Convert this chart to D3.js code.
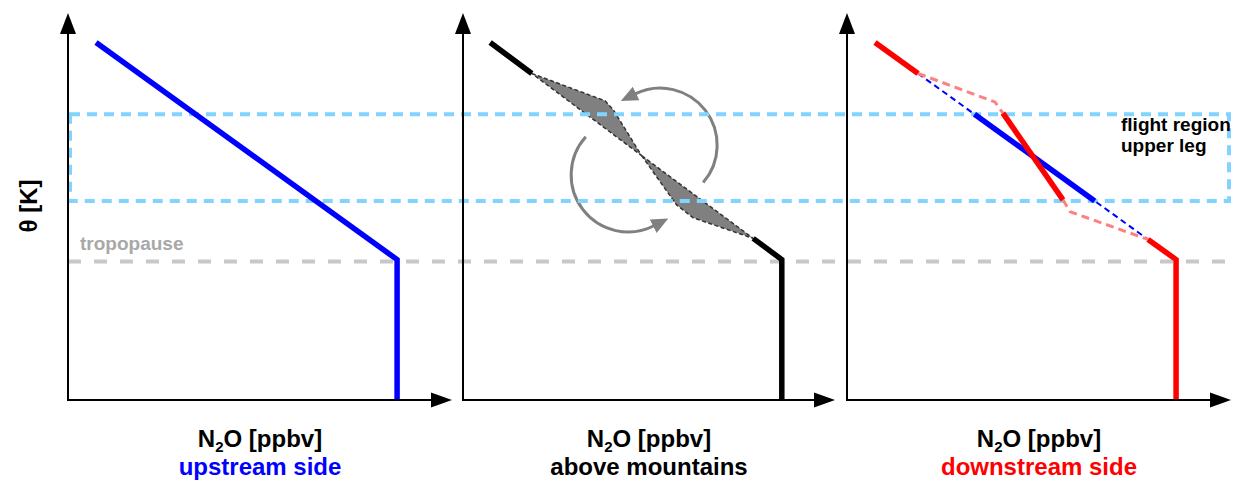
<!DOCTYPE html>
<html>
<head>
<meta charset="utf-8">
<script src="https://cdn.jsdelivr.net/npm/d3@7"></script>
<style>
  body { margin: 0; background: #fff; }
  svg { display: block; }
  text { font-family: "Liberation Sans", Arial, Helvetica, sans-serif; font-weight: bold; }
</style>
</head>
<body>
<svg id="chart" width="1234" height="481"></svg>
<script>
// ---- schematic values (N2O in arbitrary ppbv units 0-100, theta in arbitrary K units 0-107.5) ----
const panelSubtitles = ["upstream side", "above mountains", "downstream side"];
const subtitleColors = ["#0000ff", "#000000", "#ff0000"];

const tropopauseTheta = 38.5;
const flightTheta = [55.3, 79.4];

// upstream profile: linear stratospheric gradient, constant tropospheric N2O
const upstreamN2O   = [7.3, 85.7, 85.7];
const upstreamTheta = [99.3, 39.0, 0];

// above mountains: undisturbed ends of the profile
const mountTopN2O      = [7.3, 18.5];
const mountTopTheta    = [99.3, 90.7];
const mountBottomN2O   = [78.0, 85.7, 85.7];
const mountBottomTheta = [44.9, 39.0, 0];
// mixing lobes
const lobeUpperN2O   = [18.5, 38.2, 40.4, 48.0];
const lobeUpperTheta = [90.7, 83.1, 80.6, 67.9];
const lobeLowerN2O   = [48.0, 57.4, 61.9, 78.0];
const lobeLowerTheta = [67.9, 54.2, 50.6, 44.9];
// circulation arrows: centre (N2O, theta) and start/end angle in degrees
const mixCentreN2O   = [53.0, 44.4];
const mixCentreTheta = [70.8, 62.5];
const mixStartDeg    = [41, 222];
const mixEndDeg      = [-116, 63];

// downstream side: reference (upstream) gradient
const refN2O         = [18.5, 78.4];
const refTheta       = [90.7, 44.6];
const refFlightN2O   = [33.2, 64.5];
const refFlightTheta = [79.4, 55.3];
// downstream profile
const downTopN2O      = [7.3, 18.5];
const downTopTheta    = [99.3, 90.7];
const downMidN2O      = [40.6, 56.25];
const downMidTheta    = [79.7, 55.6];
const downBottomN2O   = [78.4, 85.7, 85.7];
const downBottomTheta = [44.6, 39.0, 0];
const downLinkUpperN2O   = [18.5, 38.5, 40.6];
const downLinkUpperTheta = [90.7, 82.8, 79.7];
const downLinkLowerN2O   = [56.25, 58.1, 78.4];
const downLinkLowerTheta = [55.6, 52.3, 44.6];

// ---- layout ----
const panelLeft  = [68, 463, 847];
const panelWidth = [384, 372, 384];
const xScales = panelLeft.map((l, i) => d3.scaleLinear().domain([0, 100]).range([l, l + panelWidth[i]]));
const y = d3.scaleLinear().domain([0, 107.5]).range([400, 13]);

const zip = (a, b) => a.map((v, i) => [v, b[i]]);
const lineFor = xs => d3.line().x(d => xs(d[0])).y(d => y(d[1]));

const svg = d3.select("#chart");
const defs = svg.append("defs");
defs.append("marker")
  .attr("id", "mixHead")
  .attr("markerUnits", "userSpaceOnUse")
  .attr("viewBox", "0 -8 17 16")
  .attr("refX", 1).attr("refY", 0)
  .attr("markerWidth", 17).attr("markerHeight", 16)
  .attr("orient", "auto")
  .append("path").attr("d", "M0,-7.5L17,0L0,7.5Z").attr("fill", "#808080");

const xFirst = xScales[0], xLast = xScales[2];

// tropopause
svg.append("line")
  .attr("x1", xFirst(0)).attr("x2", xLast(100) - 1)
  .attr("y1", y(tropopauseTheta)).attr("y2", y(tropopauseTheta))
  .attr("stroke", "#c8c8c8").attr("stroke-width", 4)
  .attr("stroke-dasharray", "13,13");
svg.append("text")
  .attr("x", xFirst(0) + 12).attr("y", y(tropopauseTheta) - 11)
  .attr("font-size", 19).attr("fill", "#a8a8a8")
  .text("tropopause");

// ---- panel 2: mixing above mountains ----
const x2 = xScales[1];
const line2 = lineFor(x2);
[zip(lobeUpperN2O, lobeUpperTheta), zip(lobeLowerN2O, lobeLowerTheta)].forEach(pts => {
  svg.append("path")
    .attr("d", line2(pts) + "Z")
    .attr("fill", "#808080")
    .attr("stroke", "#333")
    .attr("stroke-width", 1.5)
    .attr("stroke-dasharray", "4,2.5")
    .attr("stroke-linejoin", "round");
});
const toRad = d => d * Math.PI / 180;
mixCentreN2O.forEach((cn, i) => {
  const p = d3.path();
  const cx = x2(cn), cy = y(mixCentreTheta[i]), r = 57;
  const a0 = toRad(mixStartDeg[i]), a1 = toRad(mixEndDeg[i]);
  p.moveTo(cx + r * Math.cos(a0), cy + r * Math.sin(a0));
  p.arc(cx, cy, r, a0, a1, true);
  svg.append("path")
    .attr("d", p.toString())
    .attr("fill", "none")
    .attr("stroke", "#808080")
    .attr("stroke-width", 3)
    .attr("marker-end", "url(#mixHead)");
});

// flight region (upper leg)
svg.append("rect")
  .attr("x", xFirst(0) + 2)
  .attr("y", y(flightTheta[1]))
  .attr("width", xLast(100) - 2 - (xFirst(0) + 2))
  .attr("height", y(flightTheta[0]) - y(flightTheta[1]))
  .attr("fill", "none")
  .attr("stroke", "#80d4ff")
  .attr("stroke-width", 4)
  .attr("stroke-dasharray", "10,7");
svg.append("text")
  .attr("x", xLast(100) - 110).attr("y", y(flightTheta[1]) + 17)
  .attr("font-size", 19).attr("fill", "#000")
  .selectAll("tspan").data(["flight region", "upper leg"]).join("tspan")
  .attr("x", xLast(100) - 110)
  .attr("dy", (d, i) => i === 0 ? 0 : 21)
  .text(d => d);

function profile(xs, pts, color, width, dash) {
  svg.append("path")
    .attr("d", lineFor(xs)(pts))
    .attr("fill", "none")
    .attr("stroke", color)
    .attr("stroke-width", width)
    .attr("stroke-linejoin", "miter")
    .attr("stroke-linecap", "butt")
    .attr("stroke-dasharray", dash || null);
}

// ---- panel 1: upstream ----
profile(xScales[0], zip(upstreamN2O, upstreamTheta), "#0000ff", 5.5);

// ---- panel 2 profile ends ----
profile(x2, zip(mountTopN2O, mountTopTheta), "#000", 5.5);
profile(x2, zip(mountBottomN2O, mountBottomTheta), "#000", 5.5);

// ---- panel 3: downstream ----
const x3 = xScales[2];
profile(x3, zip(refN2O, refTheta), "#0000ff", 2, "6,4");
profile(x3, zip(refFlightN2O, refFlightTheta), "#0000ff", 5.5);
profile(x3, zip(downLinkUpperN2O, downLinkUpperTheta), "#ff8080", 3, "8,5");
profile(x3, zip(downLinkLowerN2O, downLinkLowerTheta), "#ff8080", 3, "8,5");
profile(x3, zip(downTopN2O, downTopTheta), "#ff0000", 5.5);
profile(x3, zip(downMidN2O, downMidTheta), "#ff0000", 5.5);
profile(x3, zip(downBottomN2O, downBottomTheta), "#ff0000", 5.5);

// ---- axes with arrow heads ----
xScales.forEach((xs, i) => {
  const g = svg.append("g");
  const x0 = xs(0), xe = xs(100), y0 = y(0), ye = y(107.5);
  g.append("line").attr("x1", x0).attr("x2", xe - 18).attr("y1", y0).attr("y2", y0)
    .attr("stroke", "#000").attr("stroke-width", 2);
  g.append("line").attr("x1", x0).attr("x2", x0).attr("y1", y0 + 1).attr("y2", ye + 18)
    .attr("stroke", "#000").attr("stroke-width", 2);
  g.append("path").attr("d", `M${xe},${y0}L${xe - 21},${y0 - 7.5}L${xe - 21},${y0 + 7.5}Z`).attr("fill", "#000");
  g.append("path").attr("d", `M${x0},${ye}L${x0 - 8},${ye + 21}L${x0 + 8},${ye + 21}Z`).attr("fill", "#000");

  const cx = (x0 + xe) / 2;
  const t = g.append("text").attr("x", cx).attr("y", 447).attr("text-anchor", "middle")
    .attr("font-size", 24).attr("fill", "#000");
  t.append("tspan").text("N");
  t.append("tspan").attr("font-size", 15).attr("dy", 5).text("2");
  t.append("tspan").attr("dy", -5).text("O [ppbv]");
  g.append("text").attr("x", cx).attr("y", 475).attr("text-anchor", "middle")
    .attr("font-size", 24).attr("fill", subtitleColors[i]).text(panelSubtitles[i]);
});

// vertical axis title
svg.append("text")
  .attr("transform", "translate(37,206) rotate(-90)")
  .attr("text-anchor", "middle")
  .attr("font-size", 24).attr("fill", "#000")
  .text("θ [K]");
</script>
</body>
</html>
